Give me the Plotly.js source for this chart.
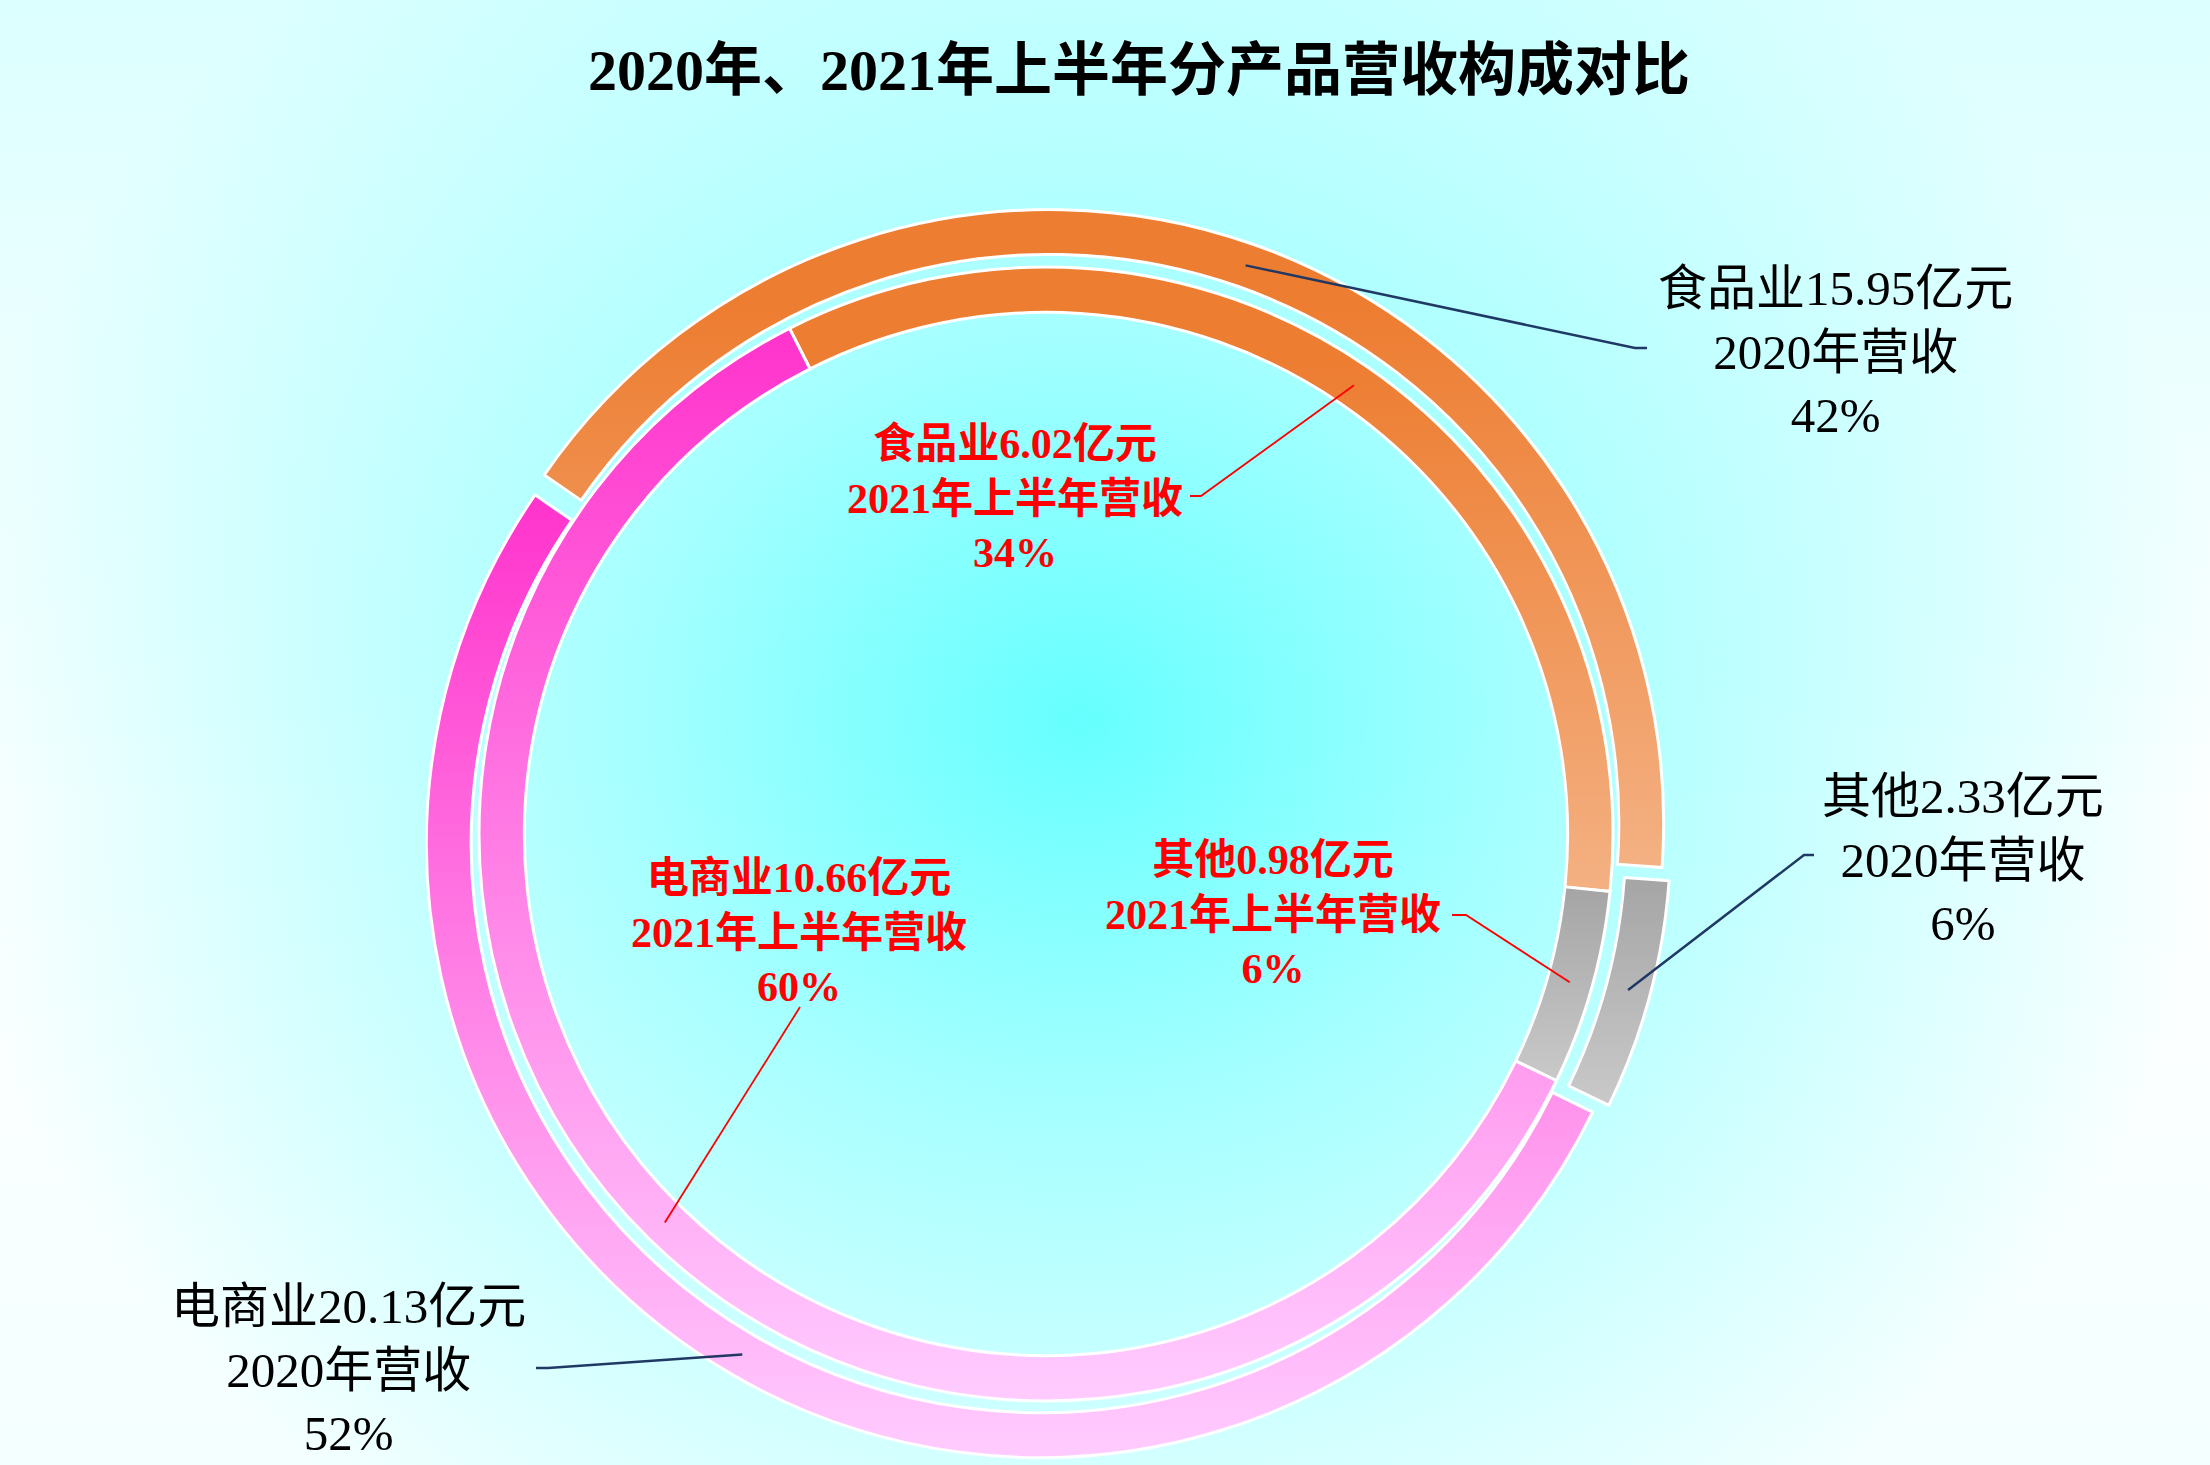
<!DOCTYPE html>
<html>
<head>
<meta charset="utf-8">
<script src="https://cdn.plot.ly/plotly-3.0.1.min.js"></script>
<style>
  html, body { margin: 0; padding: 0; }
  body {
    width: 2210px;
    height: 1465px;
    overflow: hidden;
    background:
      radial-gradient(ellipse 1150px 1000px at 1080px 720px, #66ffff 0%, rgba(160,255,255,0.92) 40%, rgba(255,255,255,0) 100%),
      linear-gradient(to bottom, #dcffff 0%, #ffffff 55%, #f4ffff 100%);
  }
  #chart { width: 2210px; height: 1465px; }
</style>
</head>
<body>
<svg width="0" height="0" style="position:absolute">
  <defs>
    <linearGradient id="grad-food" x1="0" y1="0" x2="0" y2="1">
      <stop offset="0" stop-color="#ED7D31"/>
      <stop offset="0.15" stop-color="#ED7D31"/>
      <stop offset="1" stop-color="#F4B183"/>
    </linearGradient>
    <linearGradient id="grad-other" x1="0" y1="0" x2="0" y2="1">
      <stop offset="0" stop-color="#A5A5A5"/>
      <stop offset="1" stop-color="#C9C9C9"/>
    </linearGradient>
    <linearGradient id="grad-ecom" x1="0" y1="0" x2="0" y2="1">
      <stop offset="0" stop-color="#FF33CC"/>
      <stop offset="1" stop-color="#FFCCFF"/>
    </linearGradient>
  </defs>
</svg>
<div id="chart"></div>
<script>
// data (亿元)
const categories = ["食品业", "其他", "电商业"];
const revenue2020 = [15.95, 2.33, 20.13];
const revenue2021H1 = [6.02, 0.98, 10.66];
const ringNames = ["2020年营收", "2021年上半年营收"];

const W = 2210, H = 1465;
const cx = 1046, cy = 834;

// ring geometry (px)
const outerR = 614, outerHole = 0.927, outerPull = 0.018, outerRot = -55.4;
const innerR = 567, innerHole = 0.92, innerRot = -26.9;

const fills = ["url(#grad-food)", "url(#grad-other)", "url(#grad-ecom)"];
const flatColors = ["#ED7D31", "#A5A5A5", "#FF33CC"];

// label centres and leader line elbows, px
const outerLabelPos = [[1835, 352], [1963, 860], [348, 1370]];
const outerElbow = [[1635, 348, 1647], [1804, 855, 1814], [548, 1368, 536]];
const innerLabelPos = [[1015, 498], [1273, 914], [799, 932]];
const innerElbow = [[1201, 496, 1190], [1466, 915, 1452], [800, 1007, 800]];

const fontFamily = "'Liberation Serif', 'Noto Sans CJK SC', serif";

const px = (x) => x / W;
const py = (y) => 1 - y / H;

function domainFor(half) {
  return {
    x: [px(cx - half), px(cx + half)],
    y: [py(cy + half), py(cy - half)],
  };
}

function midAnchors(values, rot, radius) {
  const total = values.reduce((a, b) => a + b, 0);
  let cum = 0;
  return values.map((v) => {
    const a = (rot + 360 * (cum + v / 2) / total) * Math.PI / 180;
    cum += v;
    return [cx + radius * Math.sin(a), cy - radius * Math.cos(a)];
  });
}

function pct(values) {
  const total = values.reduce((a, b) => a + b, 0);
  return values.map((v) => Math.round(100 * v / total) + "%");
}

const trace_outer = {
  type: "pie",
  values: revenue2020,
  labels: categories,
  sort: false,
  direction: "clockwise",
  rotation: outerRot,
  hole: outerHole,
  pull: outerPull,
  domain: domainFor(outerR * (1 + outerPull)),
  textinfo: "none",
  hoverinfo: "skip",
  showlegend: false,
  marker: { colors: flatColors, line: { color: "#ffffff", width: 3 } },
};

const trace_inner = {
  type: "pie",
  values: revenue2021H1,
  labels: categories,
  sort: false,
  direction: "clockwise",
  rotation: innerRot,
  hole: innerHole,
  domain: domainFor(innerR),
  textinfo: "none",
  hoverinfo: "skip",
  showlegend: false,
  marker: { colors: flatColors, line: { color: "#ffffff", width: 3 } },
};

const outerMid = outerR * (1 + outerHole) / 2;
const outerAnchors = midAnchors(revenue2020, outerRot, outerMid + outerR * outerPull);
const innerAnchors = midAnchors(revenue2021H1, innerRot, innerR * (1 + innerHole) / 2);
const pct2020 = pct(revenue2020);
const pct2021 = pct(revenue2021H1);

let annotations = [];
let shapes = [];

categories.forEach((cat, i) => {
  annotations.push({
    xref: "paper", yref: "paper",
    x: px(outerLabelPos[i][0]), y: py(outerLabelPos[i][1]),
    xanchor: "center", yanchor: "middle",
    showarrow: false,
    text: cat + revenue2020[i].toFixed(2) + "亿元<br>" + ringNames[0] + "<br>" + pct2020[i],
    font: { family: fontFamily, size: 49, color: "#000000" },
  });
  annotations.push({
    xref: "paper", yref: "paper",
    x: px(innerLabelPos[i][0]), y: py(innerLabelPos[i][1]),
    xanchor: "center", yanchor: "middle",
    showarrow: false,
    text: cat + revenue2021H1[i].toFixed(2) + "亿元<br>" + ringNames[1] + "<br>" + pct2021[i],
    font: { family: fontFamily, size: 42, color: "#FF0000", weight: "bold" },
  });

  const oa = outerAnchors[i], oe = outerElbow[i];
  shapes.push({
    type: "path", xref: "paper", yref: "paper",
    path: "M" + px(oa[0]) + "," + py(oa[1]) + " L" + px(oe[0]) + "," + py(oe[1]) + " L" + px(oe[2]) + "," + py(oe[1]),
    line: { color: "#1F3864", width: 2.5 },
  });
  const ia = innerAnchors[i], ie = innerElbow[i];
  shapes.push({
    type: "path", xref: "paper", yref: "paper",
    path: "M" + px(ia[0]) + "," + py(ia[1]) + " L" + px(ie[0]) + "," + py(ie[1]) + " L" + px(ie[2]) + "," + py(ie[1]),
    line: { color: "#FF0000", width: 1.8 },
  });
});

let layout = {
  width: W,
  height: H,
  margin: { l: 0, r: 0, t: 0, b: 0, pad: 0 },
  paper_bgcolor: "rgba(0,0,0,0)",
  plot_bgcolor: "rgba(0,0,0,0)",
  title: {
    text: "2020年、2021年上半年分产品营收构成对比",
    x: 1139 / W,
    xanchor: "center",
    y: 1 - 70 / H,
    yanchor: "middle",
    font: { family: fontFamily, size: 58, color: "#000000", weight: "bold" },
  },
  annotations: annotations,
  shapes: shapes,
  hovermode: false,
};

let config = { staticPlot: true, displayModeBar: false };

Plotly.newPlot("chart", [trace_outer, trace_inner], layout, config).then((gd) => {
  // gradient fills on the slices
  gd.querySelectorAll(".pielayer .trace").forEach((tr) => {
    tr.querySelectorAll("g.slice").forEach((sl, j) => {
      const p = sl.querySelector("path.surface");
      if (p) p.style.fill = fills[j];
    });
  });
});
</script>
</body>
</html>
